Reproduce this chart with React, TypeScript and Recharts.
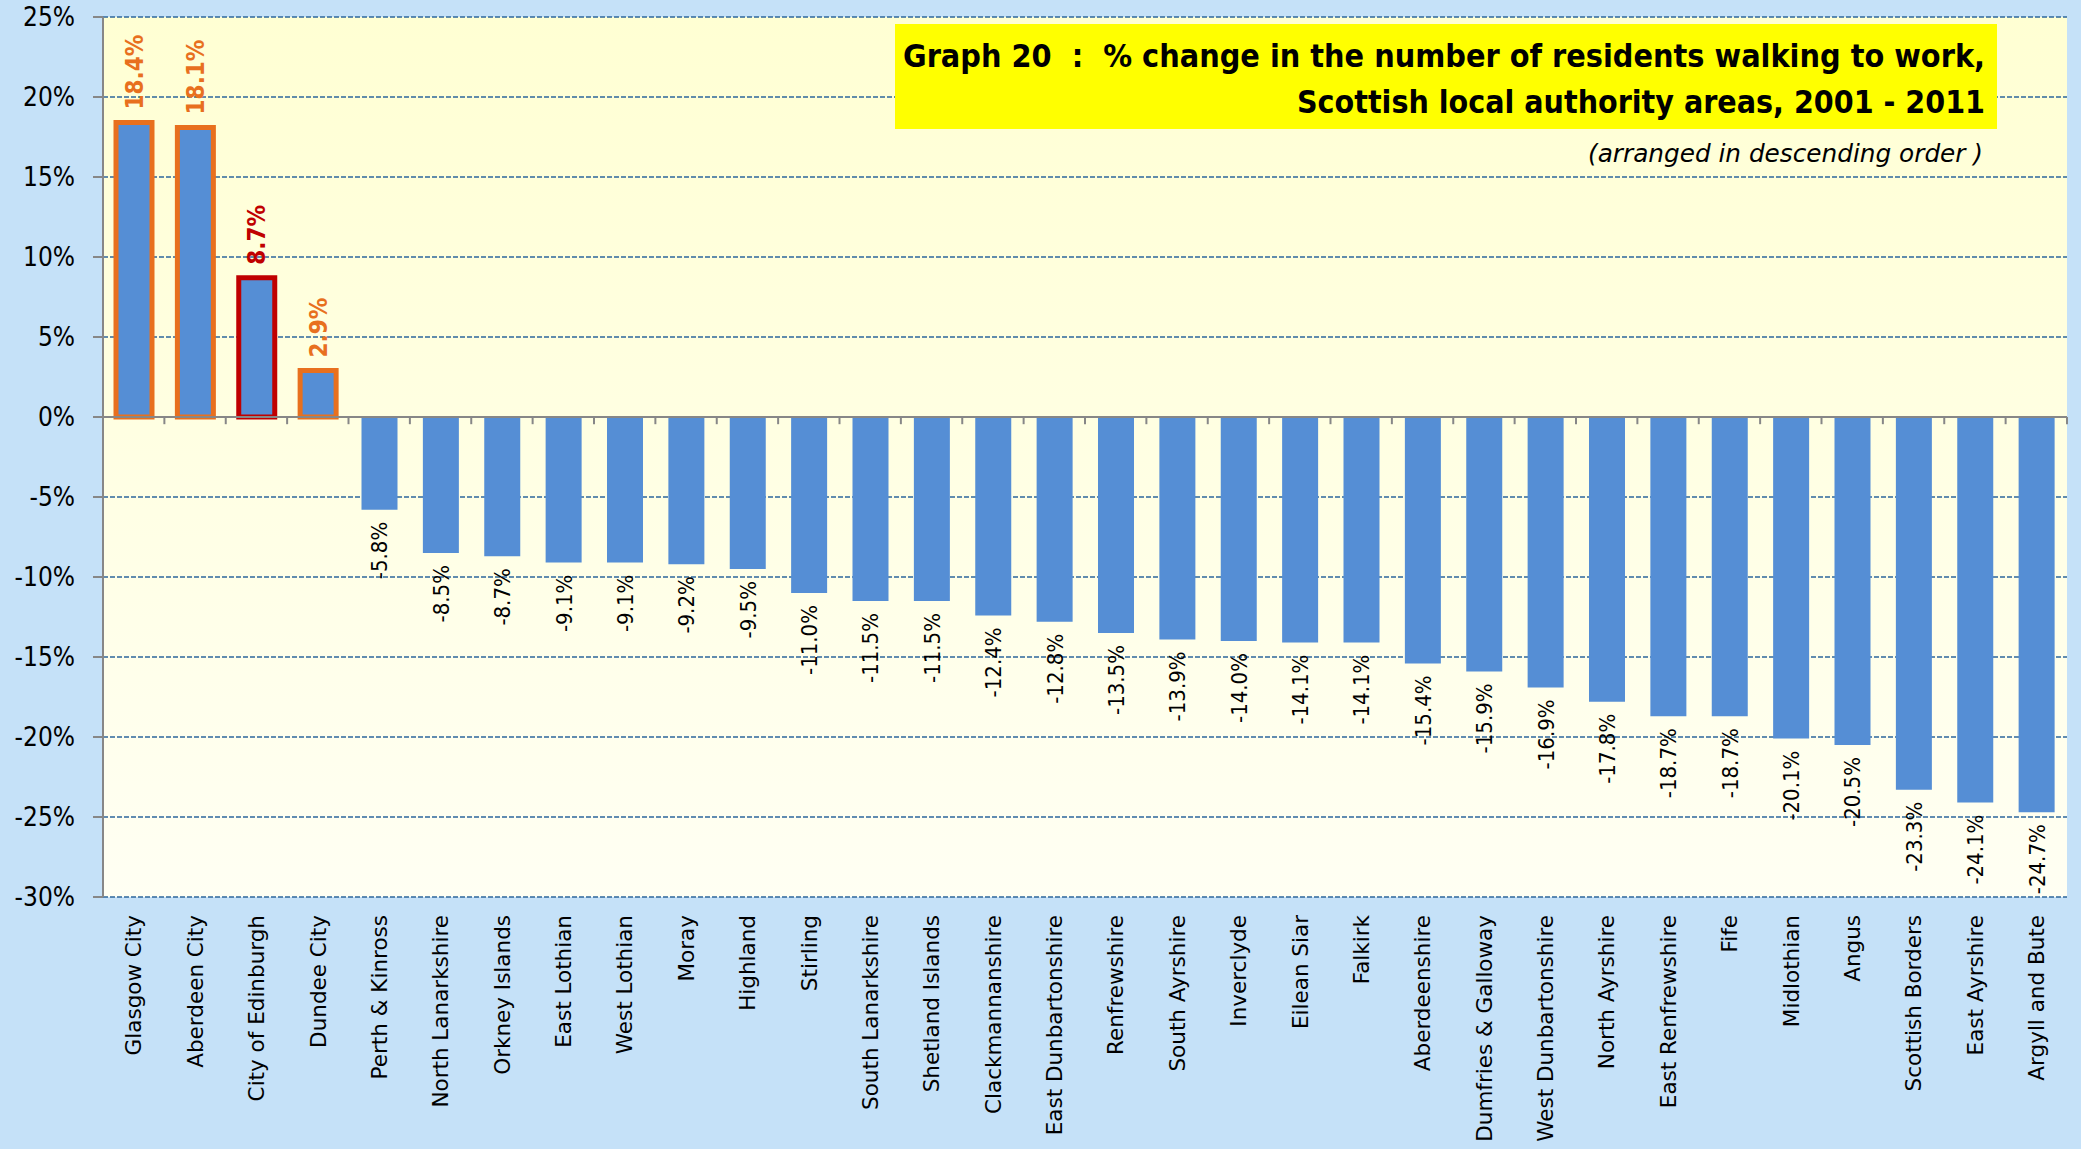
import React from "react";
import { BarChart, Bar, XAxis, YAxis, CartesianGrid, ReferenceLine, Cell, LabelList } from "recharts";

const CATEGORIES = [
  "Glasgow City", "Aberdeen City", "City of Edinburgh", "Dundee City", "Perth & Kinross",
  "North Lanarkshire", "Orkney Islands", "East Lothian", "West Lothian", "Moray", "Highland",
  "Stirling", "South Lanarkshire", "Shetland Islands", "Clackmannanshire", "East Dunbartonshire",
  "Renfrewshire", "South Ayrshire", "Inverclyde", "Eilean Siar", "Falkirk", "Aberdeenshire",
  "Dumfries & Galloway", "West Dunbartonshire", "North Ayrshire", "East Renfrewshire", "Fife",
  "Midlothian", "Angus", "Scottish Borders", "East Ayrshire", "Argyll and Bute",
];

const VALUES = [
  18.4, 18.1, 8.7, 2.9, -5.8, -8.5, -8.7, -9.1, -9.1, -9.2, -9.5, -11.0, -11.5, -11.5, -12.4,
  -12.8, -13.5, -13.9, -14.0, -14.1, -14.1, -15.4, -15.9, -16.9, -17.8, -18.7, -18.7, -20.1,
  -20.5, -23.3, -24.1, -24.7,
];

const Y_TICKS = [25, 20, 15, 10, 5, 0, -5, -10, -15, -20, -25, -30];

const TITLE_LINE_1 = "Graph 20  :  % change in the number of residents walking to work,";
const TITLE_LINE_2 = "Scottish local authority areas, 2001 - 2011";
const SUBTITLE = "(arranged in descending order )";

// style mapping (kept apart from the data)
const ORANGE_OUTLINED = ["Glasgow City", "Aberdeen City", "Dundee City"];
const RED_OUTLINED = ["City of Edinburgh"];

const data = CATEGORIES.map((name, i) => ({ name, value: VALUES[i] }));

const W = 2081;
const H = 1149;
const BAR_BLUE = "#558ED5";
const ORANGE = "#E8701E";
const DARK_RED = "#C00000";
const AXIS_GREY = "#878787";
const SANS = "'DejaVu Sans', Verdana, sans-serif";
const COND = "'DejaVu Sans Condensed', 'DejaVu Sans', sans-serif";
const TICK_DEPTH = 0.45; // depth of category tick marks under the zero line, in axis units

const fmtPct = (v: number) => `${v.toFixed(1)}%`;

const CatTick = (props: any) => {
  const { x, y, payload } = props;
  return (
    <g transform={`translate(${x},${y + 18}) rotate(-90)`}>
      <text x={0} y={0} dy="0.36em" textAnchor="end" fontFamily={SANS} fontSize={21.5} fill="#000">
        {payload.value}
      </text>
    </g>
  );
};

const renderLabel = (props: any) => {
  const vb = props.viewBox || {};
  const x = props.x ?? vb.x;
  const y = props.y ?? vb.y;
  const width = props.width ?? vb.width;
  const height = props.height ?? vb.height;
  const value = Number(props.value);
  const idx = props.index;
  const name = CATEGORIES[idx];
  const cx = x + width / 2;
  if (value >= 0) {
    const top = Math.min(y, y + height);
    const color = RED_OUTLINED.includes(name) ? DARK_RED : ORANGE;
    return (
      <g transform={`translate(${cx},${top - 13}) rotate(-90)`}>
        <text x={0} y={0} dy="0.36em" textAnchor="start" fontFamily={COND} fontWeight="bold" fontSize={24} fill={color}>
          {fmtPct(value)}
        </text>
      </g>
    );
  }
  const bottom = Math.max(y, y + height);
  return (
    <g transform={`translate(${cx},${bottom + 12}) rotate(-90)`}>
      <text x={0} y={0} dy="0.36em" textAnchor="end" fontFamily={COND} fontSize={22} fill="#000">
        {fmtPct(value)}
      </text>
    </g>
  );
};

export default function App() {
  return (
    <div style={{ position: "absolute", left: 0, top: 0, width: W, height: H, background: "#C5E1F8", overflow: "hidden" }}>
      <BarChart width={W} height={H} data={data} margin={{ top: 17, right: 14, left: 0, bottom: 0 }} barSize={36}>
        <defs>
          <linearGradient id="plotBg" x1="0" y1="0" x2="0" y2="1">
            <stop offset="0" stopColor="#FFFFD3" />
            <stop offset="1" stopColor="#FFFFF3" />
          </linearGradient>
        </defs>
        <CartesianGrid
          vertical={false}
          fill="url(#plotBg)"
          fillOpacity={1}
          stroke="#2E679C"
          strokeDasharray="5 2"
          strokeWidth={1.6}
        />
        <XAxis
          dataKey="name"
          interval={0}
          axisLine={false}
          tickLine={false}
          tickSize={0}
          tickMargin={0}
          height={252}
          tick={<CatTick />}
        />
        <YAxis
          domain={[-30, 25]}
          ticks={Y_TICKS}
          interval={0}
          width={103}
          tickFormatter={(v: number) => `${v}%`}
          axisLine={{ stroke: AXIS_GREY, strokeWidth: 2 }}
          tickLine={{ stroke: AXIS_GREY, strokeWidth: 2 }}
          tickSize={10}
          tickMargin={18}
          tick={{ fontSize: 26, fill: "#000", fontFamily: COND }}
        />
        <Bar dataKey="value" fill={BAR_BLUE} isAnimationActive={false}>
          {data.map((d) => {
            const orange = ORANGE_OUTLINED.includes(d.name);
            const red = RED_OUTLINED.includes(d.name);
            return (
              <Cell
                key={d.name}
                fill={BAR_BLUE}
                stroke={orange ? ORANGE : red ? DARK_RED : "none"}
                strokeWidth={orange || red ? 5 : 0}
              />
            );
          })}
          <LabelList dataKey="value" content={renderLabel} />
        </Bar>
        <ReferenceLine y={0} stroke={AXIS_GREY} strokeWidth={2} ifOverflow="extendDomain" />
        {CATEGORIES.slice(1).map((c) => (
          <ReferenceLine
            key={`t-${c}`}
            segment={[{ x: c, y: 0 }, { x: c, y: -TICK_DEPTH }]}
            position="start"
            stroke={AXIS_GREY}
            strokeWidth={2}
          />
        ))}
        <ReferenceLine
          segment={[
            { x: CATEGORIES[CATEGORIES.length - 1], y: 0 },
            { x: CATEGORIES[CATEGORIES.length - 1], y: -TICK_DEPTH },
          ]}
          position="end"
          stroke={AXIS_GREY}
          strokeWidth={2}
        />
      </BarChart>
      <svg width={W} height={200} style={{ position: "absolute", left: 0, top: 0, pointerEvents: "none" }}>
        <rect x={895} y={24} width={1102} height={105} fill="#FFFF00" />
        <text x={903} y={67} xmlSpace="preserve" style={{ whiteSpace: "pre" }} fontFamily={COND} fontWeight="bold" fontSize={32} fill="#000" textLength={1082} lengthAdjust="spacingAndGlyphs">
          {TITLE_LINE_1}
        </text>
        <text x={1297} y={113} fontFamily={COND} fontWeight="bold" fontSize={32} fill="#000" textLength={688} lengthAdjust="spacingAndGlyphs">
          {TITLE_LINE_2}
        </text>
        <text x={1588} y={162} fontFamily={COND} fontStyle="italic" fontSize={25} fill="#000" textLength={395} lengthAdjust="spacingAndGlyphs">
          {SUBTITLE}
        </text>
      </svg>
    </div>
  );
}
